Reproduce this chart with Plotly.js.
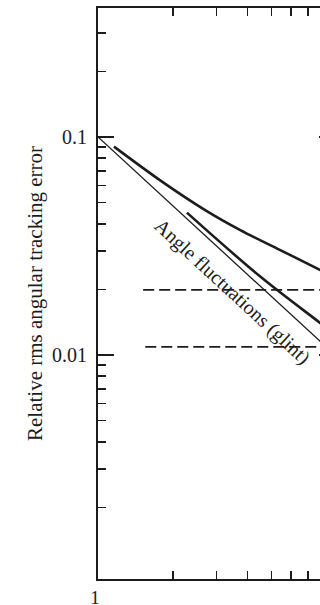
<!DOCTYPE html>
<html>
<head>
<meta charset="utf-8">
<script src="https://cdn.plot.ly/plotly-3.0.1.min.js"></script>
<style>
html,body{margin:0;padding:0;overflow:hidden;background:#fff;}
#chart{width:345px;height:605px;}
</style>
</head>
<body>
<div id="chart"></div>
<script>
// Data (log-log axes)
const glintX = [1, 9];
const glintY = [0.1, 0.0100];
const upperX = [1.16, 1.81, 2.70, 3.74, 5.42, 7.86, 9.0];
const upperY = [0.0903, 0.0624, 0.0462, 0.0374, 0.0303, 0.0245, 0.0227];
const lowerX = [2.28, 4.50, 7.86, 9.0];
const lowerY = [0.0450, 0.0229, 0.0140, 0.0124];
const dashHighX = [1.52, 9.0];
const dashHighY = [0.0199, 0.0199];
const dashLowX = [1.55, 9.0];
const dashLowY = [0.0109, 0.0109];

const xTickVals = [1, 2, 3, 4, 5, 6, 7, 8, 9];
const xTickText = ['1', '', '', '', '', '', '', '', ''];
const yTickVals = [0.01, 0.1];
const yTickText = ['0.01', '0.1'];
const yMinorVals = [0.002, 0.003, 0.004, 0.005, 0.006, 0.007, 0.008, 0.009,
                    0.02, 0.03, 0.04, 0.05, 0.06, 0.07, 0.08, 0.09, 0.2, 0.3];

const yTitle = 'Relative rms angular tracking error';
const glintLabel = 'Angle fluctuations (glint)';
const glintLabelPos = [3.47, 0.0196];

const ink = '#1c1c1c';
const serif = 'Liberation Serif, Times New Roman, serif';

const traces = [
  {x: glintX, y: glintY, mode: 'lines', line: {color: ink, width: 1.3}},
  {x: upperX, y: upperY, mode: 'lines', line: {color: ink, width: 2.6, shape: 'spline'}},
  {x: lowerX, y: lowerY, mode: 'lines', line: {color: ink, width: 2.6, shape: 'spline'}},
  {x: dashHighX, y: dashHighY, mode: 'lines', line: {color: ink, width: 1.6, dash: '11px,5px'}},
  {x: dashLowX, y: dashLowY, mode: 'lines', line: {color: ink, width: 1.6, dash: '11px,5px'}}
];

const layout = {
  width: 345, height: 605,
  margin: {l: 98, r: 10, t: 8, b: 26},
  paper_bgcolor: '#fff', plot_bgcolor: '#fff',
  showlegend: false,
  font: {family: serif, color: ink, size: 19},
  xaxis: {
    type: 'log', range: [0, Math.log10(9)],
    tickmode: 'array', tickvals: xTickVals, ticktext: xTickText,
    ticks: 'inside', ticklen: 8, tickwidth: 1.6, tickcolor: ink,
    ticklabelstandoff: 0, ticklabelshift: -3,
    showline: true, linewidth: 2, linecolor: ink, mirror: 'ticks',
    showgrid: false, zeroline: false,
    tickfont: {family: serif, size: 19, color: ink}
  },
  yaxis: {
    type: 'log', range: [-3.0275, -0.4083],
    tickmode: 'array', tickvals: yTickVals, ticktext: yTickText,
    ticks: 'inside', ticklen: 16, tickwidth: 1.6, tickcolor: ink,
    ticklabelstandoff: 5,
    minor: {tickmode: 'array', tickvals: yMinorVals, ticks: 'inside', ticklen: 8, tickwidth: 1.6, tickcolor: ink, showgrid: false},
    showline: true, linewidth: 2, linecolor: ink, mirror: 'ticks',
    showgrid: false, zeroline: false,
    tickfont: {family: serif, size: 20, color: ink},
    title: {text: yTitle, font: {family: serif, size: 21, color: ink}, standoff: 4}
  },
  annotations: [{
    x: Math.log10(glintLabelPos[0]), y: Math.log10(glintLabelPos[1]),
    xref: 'x', yref: 'y', text: glintLabel, showarrow: false,
    textangle: 42.7, font: {family: serif, size: 20, color: ink}
  }]
};

Plotly.newPlot('chart', traces, layout, {staticPlot: true, displayModeBar: false});
</script>
</body>
</html>
